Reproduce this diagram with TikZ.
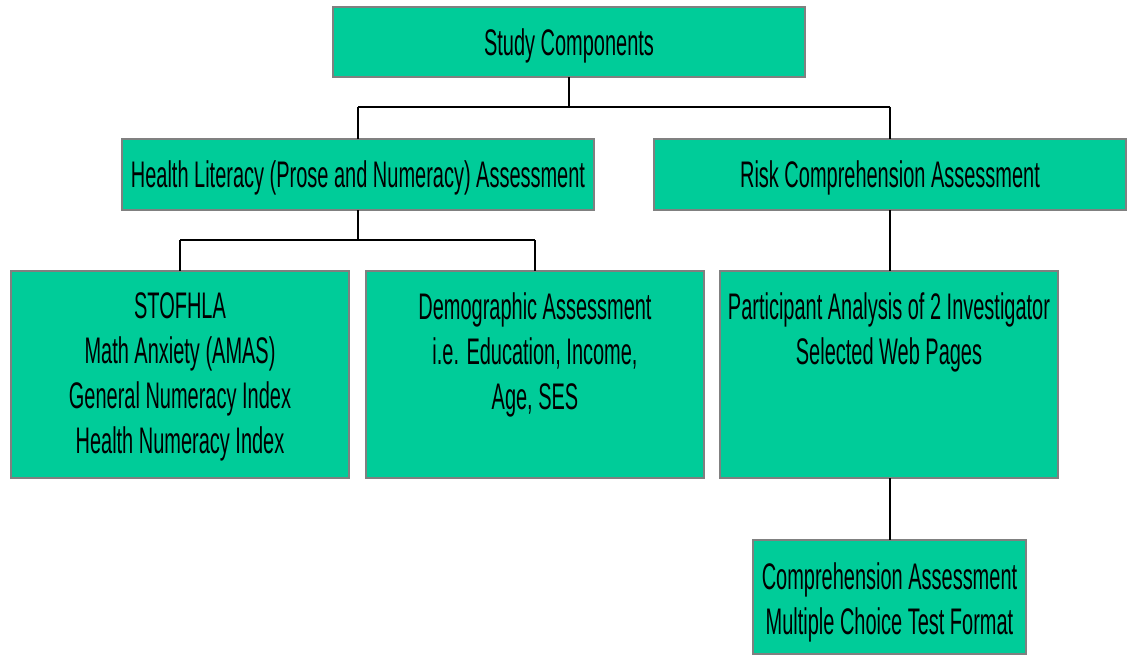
\documentclass[tikz,border=0pt]{standalone}
\usepackage{fontspec}
\setmainfont{Liberation Sans}[FakeStretch=0.54]
\definecolor{boxfill}{RGB}{0,204,153}
\definecolor{boxline}{RGB}{128,128,128}
\tikzset{
  box/.style={draw=boxline, fill=boxfill, line width=2.2pt, inner sep=0pt, outer sep=0pt, anchor=north west},
  txt/.style={inner sep=0pt, align=center, font=\fontsize{37}{45}\selectfont},
  onetxt/.style={font=\fontsize{37}{45}\selectfont, text height=26.5pt, text depth=0pt},
  hline/.style={line width=2pt},
  vline/.style={line width=1.4pt}
}
\begin{document}
\begin{tikzpicture}[x=1pt,y=-1pt]
\useasboundingbox (0,0) rectangle (1134,655);
% boxes
\node[box, minimum width=472pt, minimum height=70pt, onetxt] (sc) at (333,7) {Study Components};
\node[box, minimum width=472pt, minimum height=71pt, onetxt] (hl) at (122,139) {Health Literacy (Prose and Numeracy) Assessment};
\node[box, minimum width=472pt, minimum height=71pt, onetxt] (rc) at (654,139) {Risk Comprehension Assessment};
\node[box, minimum width=338pt, minimum height=207pt] (st) at (11,271) {};
\node[box, minimum width=338pt, minimum height=207pt] (dm) at (366,271) {};
\node[box, minimum width=338pt, minimum height=207pt] (pa) at (720,271) {};
\node[box, minimum width=273pt, minimum height=114pt] (ca) at (753,540) {};
% texts
\node[txt, anchor=north] (stt) at ([yshift=-21pt]st.north) {STOFHLA\\Math Anxiety (AMAS)\\General Numeracy Index\\Health Numeracy Index};
\node[txt, anchor=north] (dmt) at ([yshift=-21pt]dm.north) {Demographic Assessment\\i.e. Education, Income,\\Age, SES};
\node[txt, anchor=north] (pat) at ([yshift=-21pt]pa.north) {Participant Analysis of 2 Investigator\\Selected Web Pages};
\node[txt, anchor=north] (cat) at ([yshift=-22pt]ca.north) {Comprehension Assessment\\Multiple Choice Test Format};
% connectors
\coordinate (j1) at (569,107);
\coordinate (j2) at (358,240);
\draw[vline] (sc.south) -- (sc.south |- j1);
\draw[hline] (hl.north |- j1) -- (rc.north |- j1);
\draw[vline] (hl.north |- j1) -- (hl.north);
\draw[vline] (rc.north |- j1) -- (rc.north);
\draw[vline] (hl.south) -- (hl.south |- j2);
\draw[hline] (st.north |- j2) -- (dm.north |- j2);
\draw[vline] (st.north |- j2) -- (st.north);
\draw[vline] (dm.north |- j2) -- (dm.north);
\draw[vline] (rc.south) -- (rc.south |- pa.north);
\draw[vline] (rc.south |- pa.south) -- (rc.south |- ca.north);
\end{tikzpicture}
\end{document}
